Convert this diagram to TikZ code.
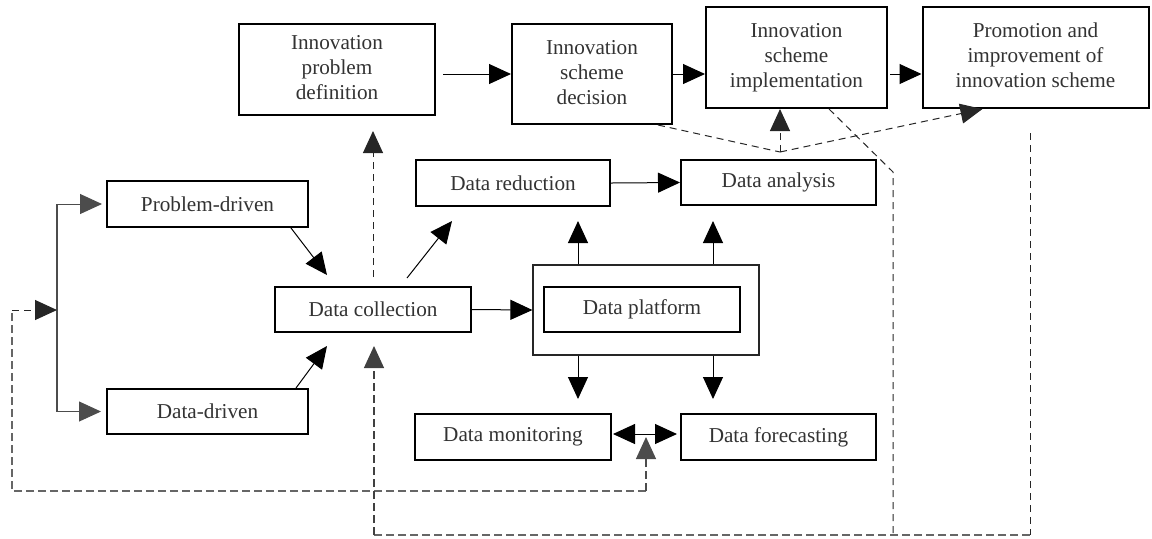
\documentclass[tikz,border=0pt]{standalone}
\usepackage{fontspec}
\setmainfont{Liberation Serif}
\usetikzlibrary{arrows.meta,calc}
\begin{document}
\begin{tikzpicture}[x=0.5pt,y=-0.5pt,
  box/.style={draw=black, line width=1pt, fill=white, align=center, text=black!80,
    font=\fontsize{10.6}{12.5}\selectfont, inner sep=0pt},
  arr/.style={-{Triangle[length=11pt,width=10pt]}, line width=0.5pt},
  barr/.style={{Triangle[length=11pt,width=10pt]}-{Triangle[length=11pt,width=10pt]}, line width=0.5pt},
  dsh/.style={dash pattern=on 3.5pt off 2.5pt, line width=0.5pt, draw=black!85},
  gdsh/.style={dash pattern=on 4pt off 2pt, line width=0.6pt, draw=black!60}]
\useasboundingbox (0,0) rectangle (1152,538);

% top row
\node[box, minimum width=98pt, minimum height=45.5pt] (ipd) at (337,69.5) {\raisebox{-1.5pt}{\begin{tabular}{@{}c@{}}Innovation\\problem\\definition\end{tabular}}};
\node[box, minimum width=80pt, minimum height=50pt] (isd) at (592,74) {\raisebox{-1.5pt}{\begin{tabular}{@{}c@{}}Innovation\\scheme\\decision\end{tabular}}};
\node[box, minimum width=90.5pt, minimum height=50.5pt] (isi) at (796.5,57.5) {\raisebox{-1.5pt}{\begin{tabular}{@{}c@{}}Innovation\\scheme\\implementation\end{tabular}}};
\node[box, minimum width=113pt, minimum height=50.5pt] (pro) at (1035.5,57.5) {\raisebox{-1.5pt}{\begin{tabular}{@{}c@{}}Promotion and\\improvement of\\innovation scheme\end{tabular}}};

% middle
\node[box, minimum width=97pt, minimum height=23pt] (dred) at (513,183) {Data reduction};
\node[box, minimum width=97.5pt, minimum height=22.5pt] (dana) at (778.5,182.5) {Data analysis};
\node[box, minimum width=100.5pt, minimum height=23pt] (prob) at (207.5,204) {Problem-driven};
\node[box, minimum width=98pt, minimum height=22.5pt] (dcol) at (373,309.5) {Data collection};
\node[box, minimum width=100.5pt, minimum height=22.5pt] (ddri) at (207.5,411.5) {Data-driven};
\node[draw=black!85, line width=0.6pt, minimum width=113pt, minimum height=45pt, inner sep=0pt] (outer) at (646,310) {};
\node[box, minimum width=98pt, minimum height=22.5pt] (dplat) at (642,309.5) {Data platform};
\node[box, minimum width=98pt, minimum height=23pt] (dmon) at (513,437) {Data monitoring};
\node[box, minimum width=97.5pt, minimum height=23pt] (dfor) at (778.5,437) {Data forecasting};

% helper coordinates
\coordinate (br) at (57,310);
\coordinate (xl) at (578,0);
\coordinate (xr) at (713,0);
\coordinate (fl) at (12,310);
\coordinate (fb) at (646,491);
\coordinate (bi) at ($(dmon.east)!0.5!(dfor.west)$);
\coordinate (V) at (780,152);
\coordinate (c1) at (893,172);
\coordinate (c2) at (893,535);
\coordinate (c3) at (1030,535);
\coordinate (c4) at (374,535);

% top row arrows
\draw[arr, shorten <=3.5pt] (ipd.east |- isd.east) -- (isd.west);
\draw[arr] (isd.east) -- (isd.east -| isi.west);
\draw[arr, shorten <=1pt] (isd.east -| isi.east) -- (isd.east -| pro.west);

% middle arrows
\draw[arr] (dred.east) -- (dana.west);
\draw[arr] (dcol.east) -- (outer.west);
\draw[arr, shorten >=7pt] (outer.north -| xl) -- (dred.south -| xl);
\draw[arr, shorten >=7.5pt] (outer.north -| xr) -- (dana.south -| xr);
\draw[arr, shorten >=7pt] (outer.south -| xl) -- (dmon.north -| xl);
\draw[arr, shorten >=7pt] (outer.south -| xr) -- (dfor.north -| xr);
\draw[barr, shorten <=0.5pt, shorten >=1.5pt] ($(dmon.east)+(0,-3)$) -- ($(dfor.west)+(0,-3)$);

% diagonal arrows
\draw[arr] ($(prob.south east)+(-18,0)$) -- ($(dcol.north west)+(53,-11)$);
\draw[arr] ($(ddri.north east)+(-13,0)$) -- ($(dcol.south west)+(53,13)$);
\draw[arr] ($(dcol.north west)+(133,-8)$) -- ($(dred.south west)+(37,14)$);

% branch
\draw[line width=0.6pt, draw=black!70] (br |- prob.west) -- (br |- ddri.west);
\draw[arr, shorten >=2pt, draw=black!70] (br |- prob.west) -- (prob.west);
\draw[arr, shorten >=2.5pt, draw=black!70] (br |- ddri.west) -- (ddri.west);

% dashed feedback loops
\draw[dsh, -{Triangle[length=11pt,width=10pt]}, shorten <=4.5pt, shorten >=7.5pt] (dcol.north) -- (dcol.north |- ipd.south);
\draw[gdsh] (fb) -| (fl);
\draw[dsh, -{Triangle[length=11pt,width=10pt]}] (fl) -- (br);
\draw[gdsh, -{Triangle[length=11pt,width=10pt]}, draw=black!70] (fb) -- (bi);

\draw[dsh] ($(isd.south east)+(-15,0)$) -- (V);
\draw[dsh, -{Triangle[length=11pt,width=10pt]}] (V) -- (V |- isi.south);
\draw[dsh, -{Triangle[length=11pt,width=10pt]}] (V) -- ($(pro.south west)+(61,0)$);

\draw[dsh] ($(isi.south east)+(-59,0)$) -- (c1) -- (c2);
\draw[dsh] ($(pro.south)+(-5.5,24)$) -- (c3);
\draw[gdsh] (c3) -- (c4);
\draw[gdsh, -{Triangle[length=11pt,width=10pt]}, shorten >=6.5pt, draw=black!75] (c4) -- (c4 |- dcol.south);
\end{tikzpicture}
\end{document}
